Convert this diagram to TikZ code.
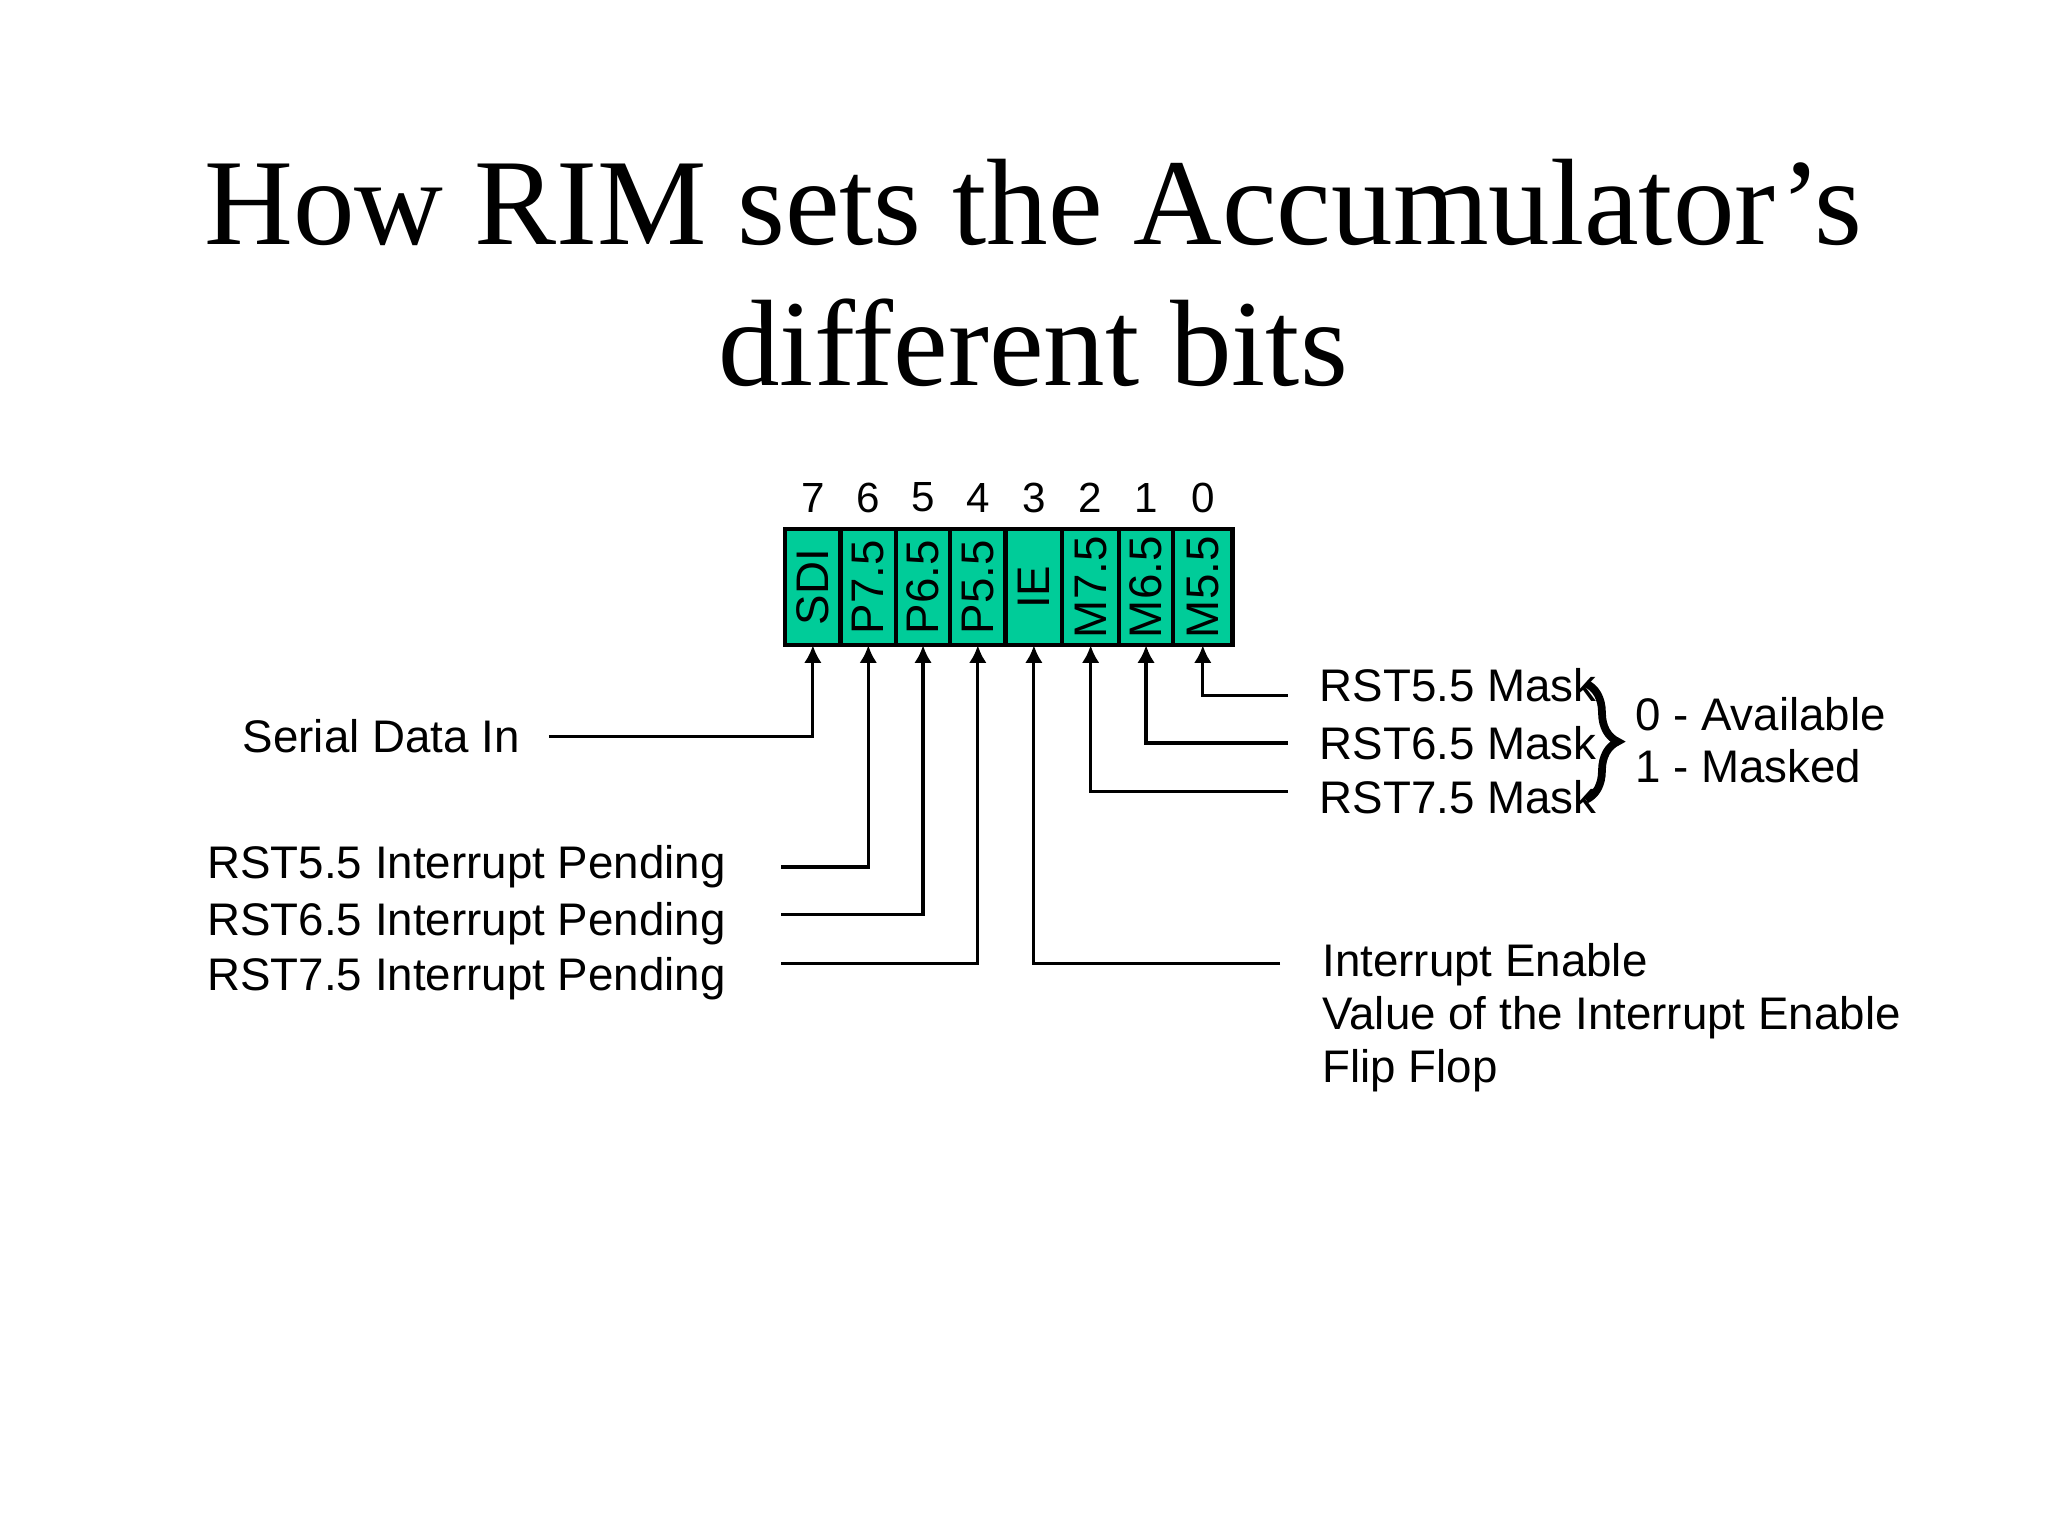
\documentclass[tikz,border=0pt]{standalone}
\usepackage{fontspec}
\setmainfont{Liberation Sans}
\newfontfamily\titlefont{Liberation Serif}
\usetikzlibrary{calc,positioning,arrows.meta,decorations.pathreplacing}
\tikzset{
	bit/.style={draw, line width=1.2pt, fill=green!60!cyan!70!teal!90, minimum height=1.16cm, inner sep=0pt, anchor=north west},
	lbl/.style={font=\fontsize{13}{15}\selectfont, inner sep=1pt},
	lead/.style={line width=0.9pt},
	pin/.style={line width=0.9pt, -{Latex[length=5pt,width=5pt]}}
}
\definecolor{regfill}{RGB}{0,204,153}
\begin{document}
\begin{tikzpicture}[x=0.0132cm, y=-0.0132cm]
	\useasboundingbox (0,0) rectangle (1552,1164);
	\node[font=\titlefont\fontsize{35}{40}\selectfont, align=center] (title) at (783,207) {How RIM sets the Accumulator’s\\different bits};

	% register bits
	\foreach \name/\xl/\xr/\txt/\num in {sdi/595/637/SDI/7, p75/637/679/P7.5/6, p65/679/720/P6.5/5, p55/720/762/P5.5/4, ie/762/805/IE/3, m75/805/848/M7.5/2, m65/848/889/M6.5/1, m55/889/934/M5.5/0} {
		\draw[line width=1.2pt, fill=regfill] (\xl,401) rectangle (\xr,489);
		\node[lbl, rotate=90] (\name) at ({(\xl+\xr)/2},445) {\txt};
		\coordinate (\name-b) at ({(\xl+\xr)/2},489);
		\node[lbl, font=\fontsize{12}{14}\selectfont] at ({(\xl+\xr)/2},377) {\num};
	}

	% left labels
	\node[lbl, anchor=east] (sdl) at (397,558) {Serial Data In};
	\node[lbl, anchor=east] (p5l) at (553,657) {RST5.5 Interrupt Pending};
	\node[lbl, anchor=east] (p6l) at (553,700) {RST6.5 Interrupt Pending};
	\node[lbl, anchor=east] (p7l) at (553,742) {RST7.5 Interrupt Pending};

	% right labels
	\node[lbl, anchor=west] (m5l) at (997,519) {RST5.5 Mask};
	\node[lbl, anchor=west] (m6l) at (997,563) {RST6.5 Mask};
	\node[lbl, anchor=west] (m7l) at (997,604) {RST7.5 Mask};
	\node[lbl, anchor=north west, align=left] (iel) at (999,712) {Interrupt Enable\\Value of the Interrupt Enable\\Flip Flop};
	\node[lbl, anchor=west, align=left] (avl) at (1236,561) {0 - Available\\1 - Masked};

	% leads
	\draw[pin] (416,558) -| (sdi-b);
	\draw[pin] (592,657) -| (p75-b);
	\draw[pin] (592,693) -| (p65-b);
	\draw[pin] (592,730) -| (p55-b);
	\draw[pin] (970,730) -| (ie-b);
	\draw[pin] (976,600) -| (m75-b);
	\draw[pin] (976,563) -| (m65-b);
	\draw[pin] (976,527) -| (m55-b);

	\draw[line width=2.2pt, decorate, decoration={brace, amplitude=9pt}] (1202,518) -- (1202,606);
\end{tikzpicture}
\end{document}
